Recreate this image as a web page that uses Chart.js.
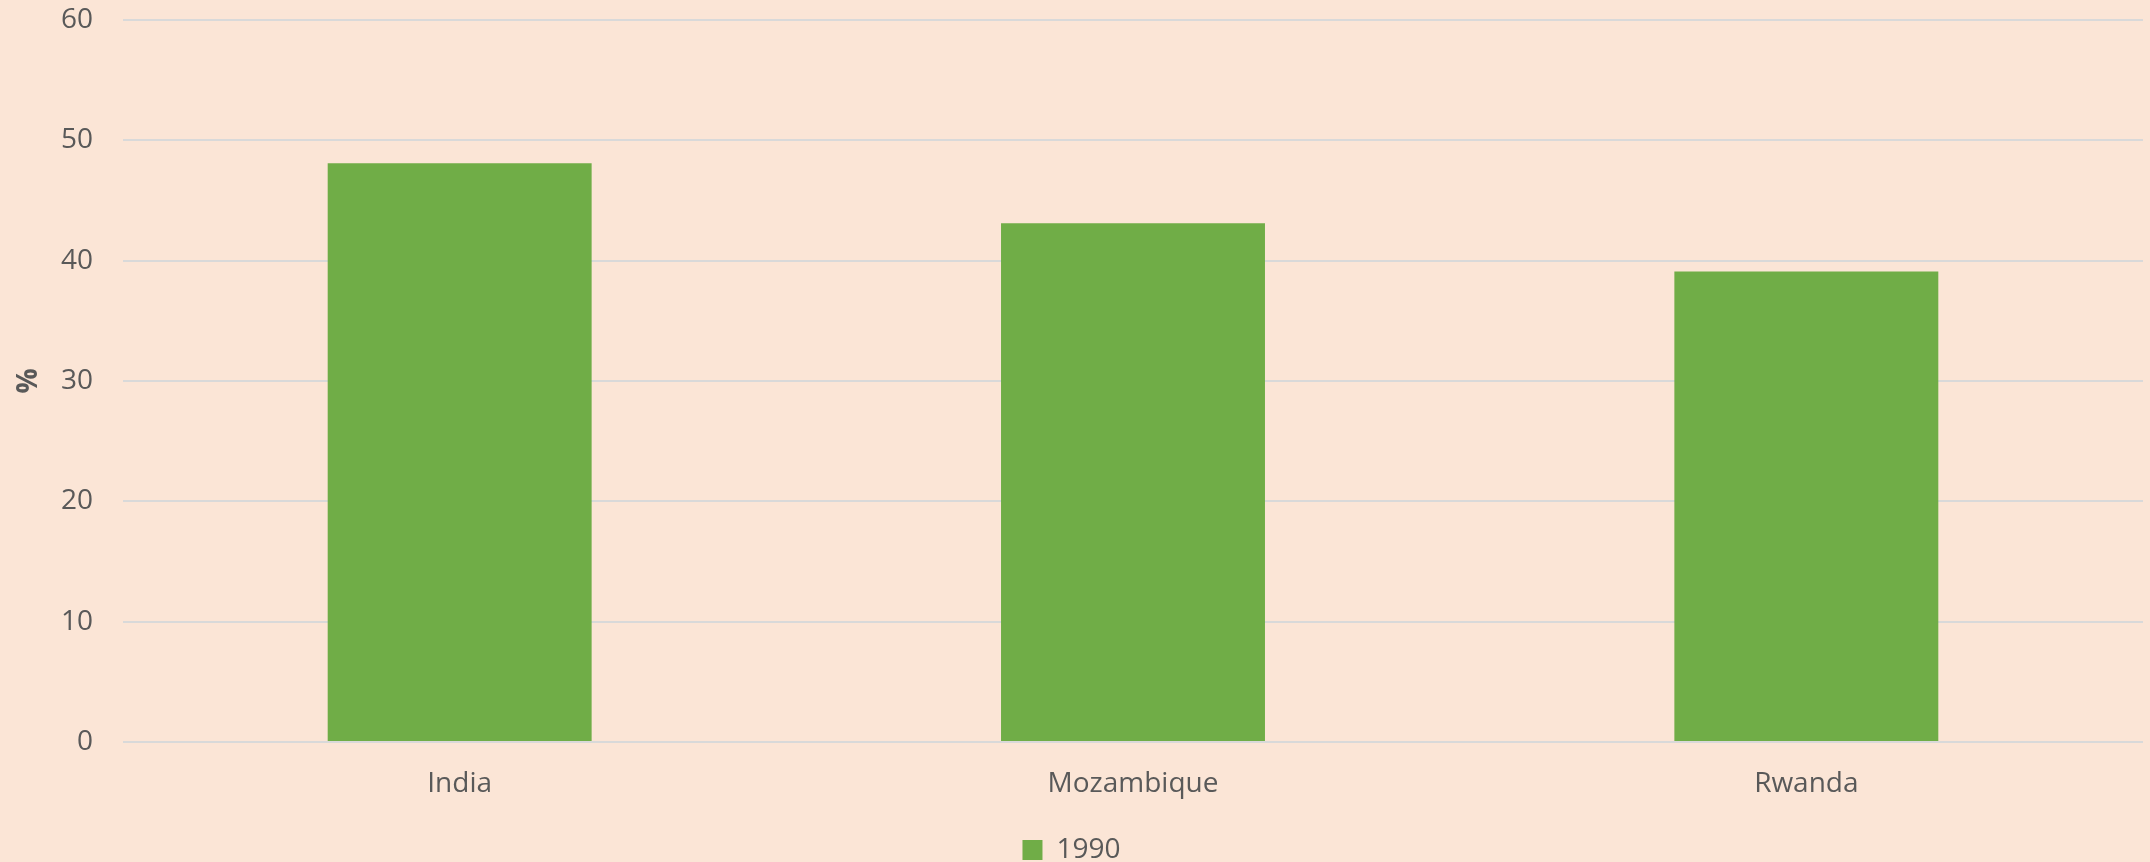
<!DOCTYPE html>
<html>
<head>
<meta charset="utf-8">
<script src="https://cdn.jsdelivr.net/npm/chart.js@4"></script>
<style>
  html, body { margin: 0; padding: 0; background: #FBE5D6; }
  #wrap { width: 2150px; height: 862px; }
</style>
</head>
<body>
<div id="wrap"><canvas id="c" width="2150" height="862"></canvas></div>
<script>
const categories = ["India", "Mozambique", "Rwanda"];
const seriesName = "1990";
const values1990 = [48.1, 43.1, 39.1];
const yTicks = [0, 10, 20, 30, 40, 50, 60];
const yTitle = "%";

const textColor = "#595959";
const font = "'Open Sans', 'Noto Sans', sans-serif";

new Chart(document.getElementById('c'), {
  type: 'bar',
  data: {
    labels: categories,
    datasets: [{
      label: seriesName,
      data: values1990,
      backgroundColor: '#70AD47',
      borderWidth: 0,
      barPercentage: 0.392,
      categoryPercentage: 1.0
    }]
  },
  options: {
    responsive: false,
    animation: false,
    layout: { padding: { top: 20, right: 7, left: 0, bottom: -12 } },
    plugins: {
      legend: {
        position: 'bottom',
        labels: {
          color: textColor,
          font: { family: font, size: 28 },
          boxWidth: 20,
          boxHeight: 20,
          padding: 0
        }
      },
      tooltip: { enabled: false }
    },
    scales: {
      x: {
        grid: { display: false, drawTicks: false },
        border: { display: false },
        ticks: {
          color: textColor,
          font: { family: font, size: 28 },
          padding: 25
        },
        afterFit: (s) => { s.height = 94; }
      },
      y: {
        min: 0,
        max: 60,
        afterBuildTicks: (s) => { s.ticks = yTicks.map(v => ({ value: v })); },
        grid: { color: '#D9D9D9', lineWidth: 2, drawTicks: false },
        border: { display: false },
        ticks: {
          color: textColor,
          font: { family: font, size: 28 },
          padding: 30
        },
        title: {
          display: true,
          text: yTitle,
          color: textColor,
          font: { family: font, size: 28, weight: 'bold' },
          padding: { top: 12, bottom: 0 }
        },
        afterFit: (s) => { s.width = 123; s.paddingTop = 0; s.paddingBottom = 0; }
      }
    }
  },
  plugins: [{
    id: 'bg',
    beforeDraw: (chart) => {
      const ctx = chart.ctx;
      ctx.save();
      ctx.fillStyle = '#FBE5D6';
      ctx.fillRect(0, 0, chart.width, chart.height);
      ctx.restore();
    }
  }]
});
</script>
</body>
</html>
